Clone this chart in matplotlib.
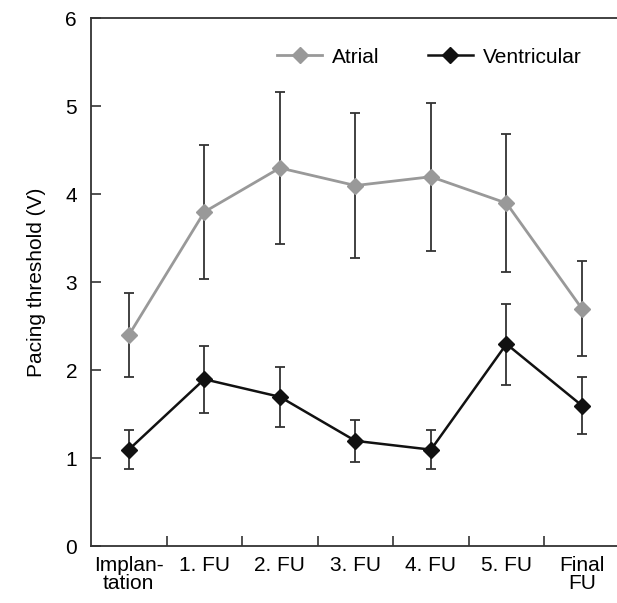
import matplotlib
matplotlib.use("Agg")
import matplotlib.pyplot as plt

categories = ["Implan-\ntation", "1. FU", "2. FU", "3. FU", "4. FU", "5. FU", "Final\nFU"]
atrial = [2.4, 3.8, 4.3, 4.1, 4.2, 3.9, 2.7]
atrial_err = [0.48, 0.76, 0.86, 0.82, 0.84, 0.78, 0.54]
ventricular = [1.1, 1.9, 1.7, 1.2, 1.1, 2.3, 1.6]
ventricular_err = [0.22, 0.38, 0.34, 0.24, 0.22, 0.46, 0.32]

plt.rcParams['font.family'] = ['Liberation Sans', 'DejaVu Sans']

fig = plt.figure(figsize=(6.17, 6.03), dpi=100)
ax = fig.add_axes([0.1475, 0.0937, 0.857, 0.876])

x = list(range(len(categories)))
ax.errorbar(x, atrial, yerr=atrial_err, fmt='none', ecolor='#333333', elinewidth=1.3, capsize=3.5, capthick=1.3, zorder=2)
ax.errorbar(x, ventricular, yerr=ventricular_err, fmt='none', ecolor='#333333', elinewidth=1.3, capsize=3.5, capthick=1.3, zorder=2)
ax.plot(x, atrial, color='#999999', marker='D', markersize=8.5, linewidth=2, label='Atrial', zorder=3)
ax.plot(x, ventricular, color='#111111', marker='D', markersize=8.5, linewidth=1.8, label='Ventricular', zorder=3)

ax.set_xlim(-0.5, 6.5)
ax.set_ylim(0, 6)
ax.set_yticks(range(0, 7))
ax.set_xticks(x)
ax.set_xticklabels(categories, fontsize=15, linespacing=0.95)
ax.set_xticks([i + 0.5 for i in range(6)], minor=True)
ax.tick_params(axis='x', which='major', length=0, pad=7)
ax.tick_params(axis='x', which='minor', direction='in', length=7, width=1.2, color='#333333')
ax.tick_params(axis='y', direction='in', length=7, width=1.2, color='#333333', labelsize=15, pad=10)
for s in ax.spines.values():
    s.set_linewidth(1.3)
    s.set_color('#333333')

ax.set_ylabel('Pacing threshold (V)', fontsize=15, labelpad=14)
ax.legend(loc='upper center', bbox_to_anchor=(0.64, 0.98), ncol=2, frameon=False,
          fontsize=15, handlelength=2.15, columnspacing=2.3, handletextpad=0.5)

fig.savefig("out.png", dpi=100)
